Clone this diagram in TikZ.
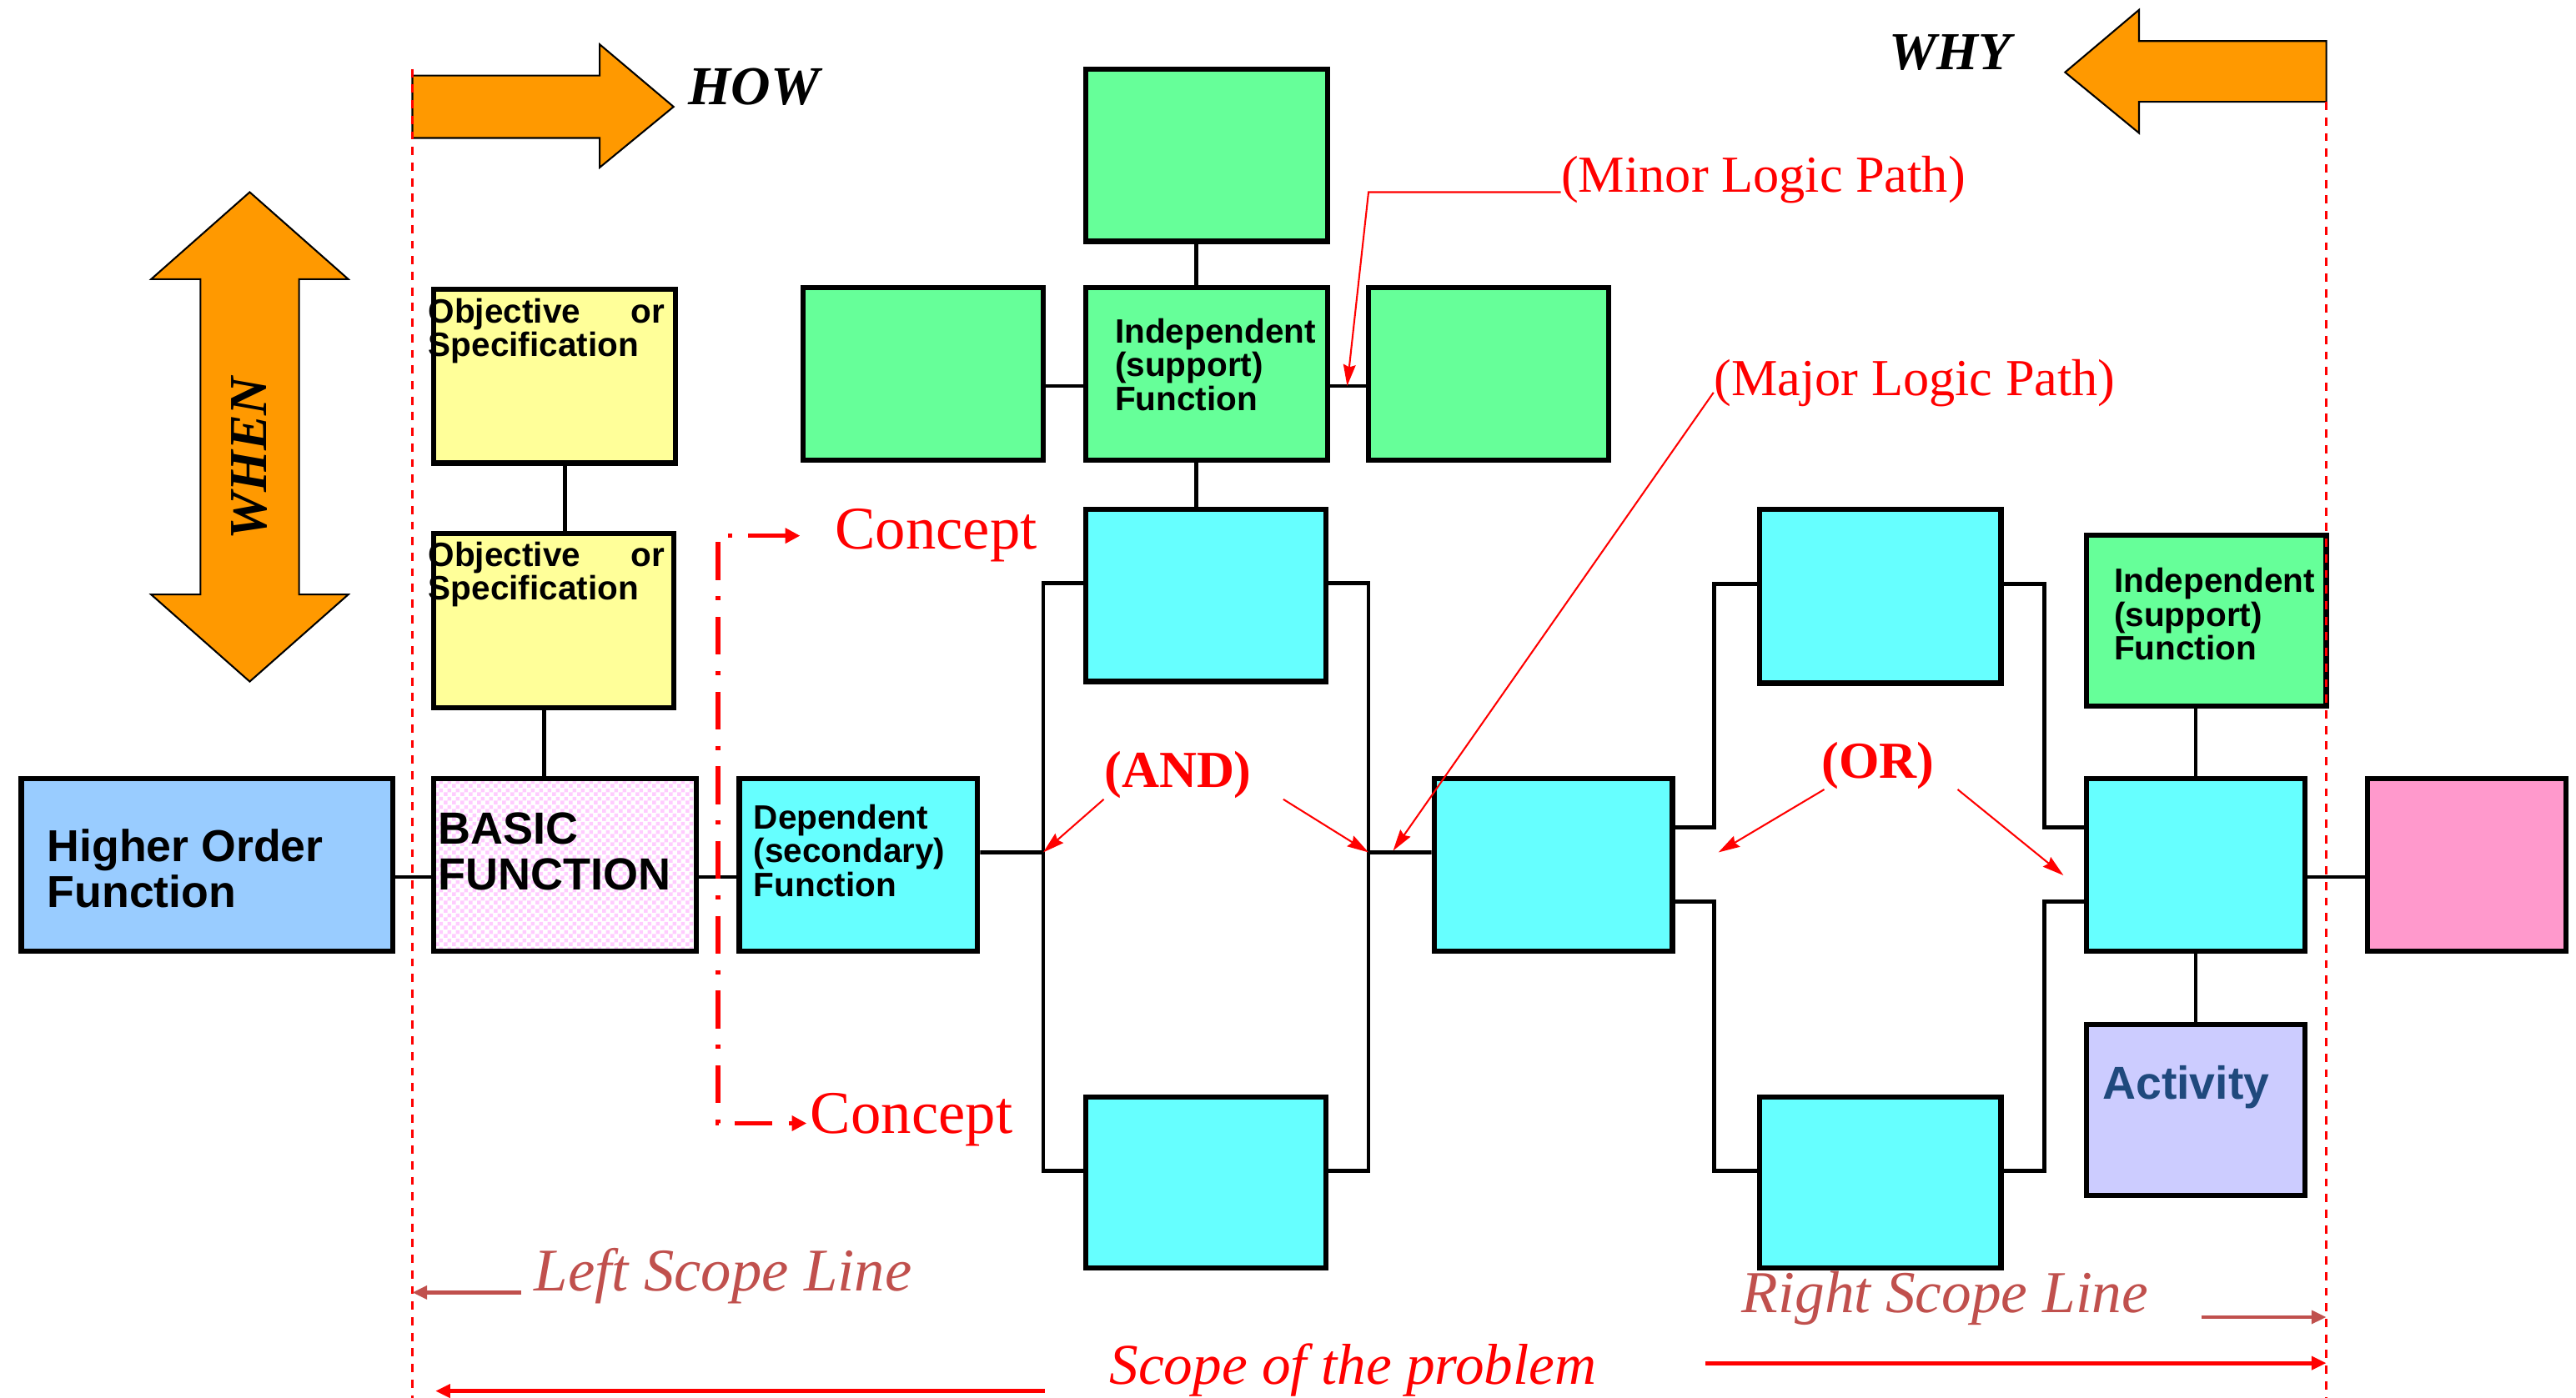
\documentclass[tikz,border=0pt]{standalone}
\usepackage{fontspec}
\setmainfont{Liberation Serif}
\setsansfont{Liberation Sans}
\usepackage{xcolor}
\usetikzlibrary{arrows.meta,patterns,positioning}

\definecolor{vaOrange}{HTML}{FF9900}
\definecolor{vaGreen}{HTML}{66FF99}
\definecolor{vaCyan}{HTML}{66FFFF}
\definecolor{vaYellow}{HTML}{FFFF99}
\definecolor{vaBlue}{HTML}{99CCFF}
\definecolor{vaPink}{HTML}{FF99CC}
\definecolor{vaLilac}{HTML}{CCCCFF}
\definecolor{vaCheck}{HTML}{FFCCFF}
\definecolor{scopeRed}{HTML}{C0504D}
\definecolor{actBlue}{HTML}{1F497D}

% fine checkers for the basic function box
\pgfdeclarepatternformonly{finecheck}{\pgfqpoint{0pt}{0pt}}{\pgfqpoint{2.9pt}{2.9pt}}{\pgfqpoint{2.9pt}{2.9pt}}{
  \pgfpathrectangle{\pgfqpoint{0pt}{0pt}}{\pgfqpoint{1.45pt}{1.45pt}}
  \pgfpathrectangle{\pgfqpoint{1.45pt}{1.45pt}}{\pgfqpoint{1.45pt}{1.45pt}}
  \pgfusepath{fill}}

\begin{document}
\begin{tikzpicture}[x=0.2mm,y=-0.2mm,
  fnbox/.style={draw,line width=1.8pt,minimum width=29.2mm,minimum height=21mm,inner sep=0pt},
  ftext/.style={anchor=north west,inner sep=0pt,align=left,
    font=\sffamily\bfseries\fontsize{11.7}{11.7}\selectfont},
  link/.style={line width=1.4pt},
  bigarrow/.style={fill=vaOrange,draw=black,line width=0.6pt},
  asktext/.style={inner sep=0pt,font=\bfseries\itshape\fontsize{18.5}{18.5}\selectfont},
  note/.style={red,line width=0.6pt,-{Stealth[length=2.6mm,width=1.5mm,inset=0.3mm]}},
  notetext/.style={inner sep=0pt,text=red,font=\fontsize{18}{18}\selectfont},
  logictext/.style={inner sep=0pt,text=red,font=\bfseries\fontsize{18}{18}\selectfont},
  concepttext/.style={inner sep=0pt,text=red,font=\fontsize{21}{21}\selectfont},
  concept/.style={red,line width=1.5pt,dash pattern=on 4.6mm off 2mm on 0.5mm off 2mm,
    {Triangle[length=1.8mm,width=1.8mm]}-{Triangle[length=1.8mm,width=1.8mm]}},
  scopeline/.style={red,line width=0.7pt,dash pattern=on 1mm off 0.9mm},
  scopetext/.style={inner sep=0pt,text=scopeRed,font=\itshape\fontsize{20.6}{20.6}\selectfont},
  scopearrow/.style={scopeRed,line width=1.2pt,-{Triangle[length=1.8mm,width=1.6mm]}},
  problemtext/.style={inner sep=0pt,text=red,font=\itshape\fontsize{20}{20}\selectfont},
  probarrow/.style={red,line width=1.4pt,-{Triangle[length=1.8mm,width=1.6mm]}}]
\useasboundingbox (0,0) rectangle (1568,851);

% HOW / WHY / WHEN arrows
\draw[bigarrow] (251,46) -- (365,46) -- (365,27) -- (410,65) -- (365,102) -- (365,84) -- (251,84) -- cycle;
\node[asktext,font=\bfseries\itshape\fontsize{19}{19}\selectfont] (how) at (459,53) {HOW};
\draw[bigarrow] (1416,25) -- (1302,25) -- (1302,6) -- (1257,44) -- (1302,81) -- (1302,62) -- (1416,62) -- cycle;
\node[asktext] (why) at (1187,32) {WHY};
\draw[bigarrow] (152,117) -- (212,170) -- (182,170) -- (182,362) -- (212,362) -- (152,415)
  -- (92,362) -- (122,362) -- (122,170) -- (92,170) -- cycle;
\node[asktext,rotate=90] (when) at (152,279) {WHEN};

% basic function side
\node[fnbox,fill=vaBlue,minimum width=45.2mm] (hof) at (126,526.5) {};
\node[fnbox,pattern=finecheck,pattern color=vaCheck,minimum width=32mm] (basic) at (344,526.5) {};
\node[fnbox,fill=vaYellow,minimum width=29.4mm,minimum height=21.2mm] (objA) at (337.5,229) {};
\node[fnbox,fill=vaYellow,minimum height=21.2mm] (objB) at (337,378) {};
\node[fnbox,fill=vaCyan,minimum width=29mm] (dep) at (522.5,526.5) {};

% support functions
\node[fnbox,fill=vaGreen,minimum width=29.4mm] (gTop) at (734.5,94.5) {};
\node[fnbox,fill=vaGreen] (gLeft) at (562,227.5) {};
\node[fnbox,fill=vaGreen,minimum width=29.4mm] (gMid) at (734.5,227.5) {};
\node[fnbox,fill=vaGreen] (gRight) at (906,227.5) {};

% AND branch
\node[fnbox,fill=vaCyan] (andTop) at (734,362.5) {};
\node[fnbox,fill=vaCyan,minimum height=20.8mm] (andBot) at (734,720) {};
\node[fnbox,fill=vaCyan,minimum width=29mm] (mid) at (945.5,526.5) {};

% OR branch
\node[fnbox,fill=vaCyan,minimum width=29.4mm,minimum height=21.2mm] (orTop) at (1144.5,363) {};
\node[fnbox,fill=vaCyan,minimum width=29.4mm,minimum height=20.8mm] (orBot) at (1144.5,720) {};
\node[fnbox,fill=vaCyan,minimum width=26.6mm] (last) at (1336.5,526.5) {};
\node[fnbox,fill=vaGreen,minimum height=20.8mm] (gInd) at (1343,378) {};
\node[fnbox,fill=vaPink,minimum width=24.2mm] (result) at (1501.5,526.5) {};
\node[fnbox,fill=vaLilac,minimum width=26.6mm,minimum height=20.8mm] (act) at (1336.5,676) {};

% box texts
\node[ftext,font=\sffamily\bfseries\fontsize{15.5}{16}\selectfont] (hofT)
  at ([xshift=3.4mm,yshift=-6.4mm]hof.north west) {Higher Order\\Function};
\node[ftext,font=\sffamily\bfseries\fontsize{15.6}{16}\selectfont] (basicT)
  at ([xshift=0.8mm,yshift=-4.4mm]basic.north west) {BASIC\\FUNCTION};
\node[ftext] (objAT) at ([xshift=-0.4mm,yshift=-1.4mm]objA.north west)
  {\makebox[28.8mm][l]{Objective\hfill or}\\Specification};
\node[ftext] (objBT) at ([xshift=-0.4mm,yshift=-1.2mm]objB.north west)
  {\makebox[28.8mm][l]{Objective\hfill or}\\Specification};
\node[ftext] (depT) at ([xshift=2mm,yshift=-3.4mm]dep.north west) {Dependent\\(secondary)\\Function};
\node[ftext] (gMidT) at ([xshift=3.8mm,yshift=-4mm]gMid.north west) {Independent\\(support)\\Function};
\node[ftext] (gIndT) at ([xshift=3.6mm,yshift=-4.2mm]gInd.north west) {Independent\\(support)\\Function};
\node[ftext,text=actBlue,font=\sffamily\bfseries\fontsize{16}{16}\selectfont] (actT)
  at ([xshift=2.2mm,yshift=-5.2mm]act.north west) {Activity};

% connectors
\draw[link] ([yshift=-1.5mm]hof.east) -- ([yshift=-1.5mm]basic.west);
\draw[link] ([yshift=-1.5mm]basic.east) -- ([yshift=-1.5mm]dep.west);
\draw[link] ([xshift=1.3mm]objA.south) -- ([xshift=1.3mm]objA.south |- objB.north);
\draw[link] ([xshift=-1.2mm]objB.south) -- ([xshift=-1.2mm]objB.south |- basic.north);
\draw[link] ([xshift=-1.3mm]gTop.south) -- ([xshift=-1.3mm]gMid.north);
\draw[link] ([yshift=-1.5mm]gLeft.east) -- ([yshift=-1.5mm]gMid.west);
\draw[link] ([yshift=-1.5mm]gMid.east) -- ([yshift=-1.5mm]gRight.west);
\draw[link] ([xshift=-1.3mm]gMid.south) -- ([xshift=-1.3mm]gMid.south |- andTop.north);

% AND junction
\coordinate (andIn) at (635,519);
\coordinate (andOut) at (833,519);
\draw[link] ([yshift=1.5mm]dep.east) -- (andIn);
\draw[link] ([yshift=1.5mm]andTop.west) -| (andIn) |- ([yshift=1.4mm]andBot.west);
\draw[link] ([yshift=1.5mm]andTop.east) -| (andOut) |- ([yshift=1.4mm]andBot.east);
\draw[link] (andOut) -- ([yshift=1.5mm]mid.west);

% OR junction
\draw[link] ([yshift=4.5mm]mid.east) -| ([xshift=-5.2mm,yshift=1.5mm]orTop.west) -- ([yshift=1.5mm]orTop.west);
\draw[link] ([yshift=-4.5mm]mid.east) -| ([xshift=-5.2mm,yshift=1.4mm]orBot.west) -- ([yshift=1.4mm]orBot.west);
\draw[link] ([yshift=1.5mm]orTop.east) -- ++(5mm,0) |- ([yshift=4.5mm]last.west);
\draw[link] ([yshift=1.4mm]orBot.east) -- ++(5mm,0) |- ([yshift=-4.5mm]last.west);
\draw[link] (gInd.south -| last.north) -- (last.north);
\draw[link] (last.south) -- (act.north);
\draw[link] ([yshift=-1.5mm]last.east) -- ([yshift=-1.5mm]result.west);

% scope lines
\draw[scopeline] (251,42) -- (251,851);
\draw[scopeline] (1416,62) -- (1416,851);

% concepts
\node[concepttext,anchor=base west] (conA) at (508,334.5) {Concept};
\node[concepttext,anchor=base west] (conB) at (493,690) {Concept};
\coordinate (conV) at (437,684);
\draw[concept] ([xshift=-4.2mm]conA.west) -| (conV) -- ([xshift=-0.4mm]conV -| conB.west);

% logic path notes
\node[logictext] (andL) at (717,472) {(AND)};
\draw[note] (andL.south west) -- (andIn);
\draw[note] ([xshift=3.8mm]andL.south east) -- (andOut);
\node[logictext] (orL) at (1143,466) {(OR)};
\coordinate (orTipL) at (1046,519);
\coordinate (orTipR) at (1256,533);
\draw[note] ([xshift=0.4mm]orL.south west) -- (orTipL);
\draw[note] ([xshift=2.8mm]orL.south east) -- (orTipR);

\node[notetext,anchor=base west] (minor) at (950,117) {(Minor Logic Path)};
\coordinate (minBend) at (833,117);
\coordinate (minTip) at (820,235);
\draw[note] (minor.base west) -- (minBend) -- (minTip);
\node[notetext,anchor=base west] (major) at (1043,241) {(Major Logic Path)};
\coordinate (majTip) at (848,518);
\draw[note] ([yshift=0.4mm]major.base west) -- (majTip);

% scope labels
\node[scopetext,anchor=base west,font=\itshape\fontsize{21}{21}\selectfont] (lscope) at (325,786) {Left Scope Line};
\coordinate (lsEnd) at (251,787);
\draw[scopearrow] ([xshift=-1.6mm]lscope.base west |- lsEnd) -- (lsEnd);
\node[scopetext,anchor=base west] (rscope) at (1060,799) {Right Scope Line};
\coordinate (rsEnd) at (1416,802);
\draw[scopearrow] ([xshift=6.4mm]rscope.base east |- rsEnd) -- (rsEnd);
\node[problemtext,anchor=base west] (problem) at (675,843) {Scope of the problem};
\coordinate (probR) at (1416,830);
\coordinate (probL) at (265,847);
\draw[probarrow] ([xshift=13.2mm]problem.base east |- probR) -- (probR);
\draw[probarrow] ([xshift=-7.8mm]problem.base west |- probL) -- (probL);
\end{tikzpicture}
\end{document}
